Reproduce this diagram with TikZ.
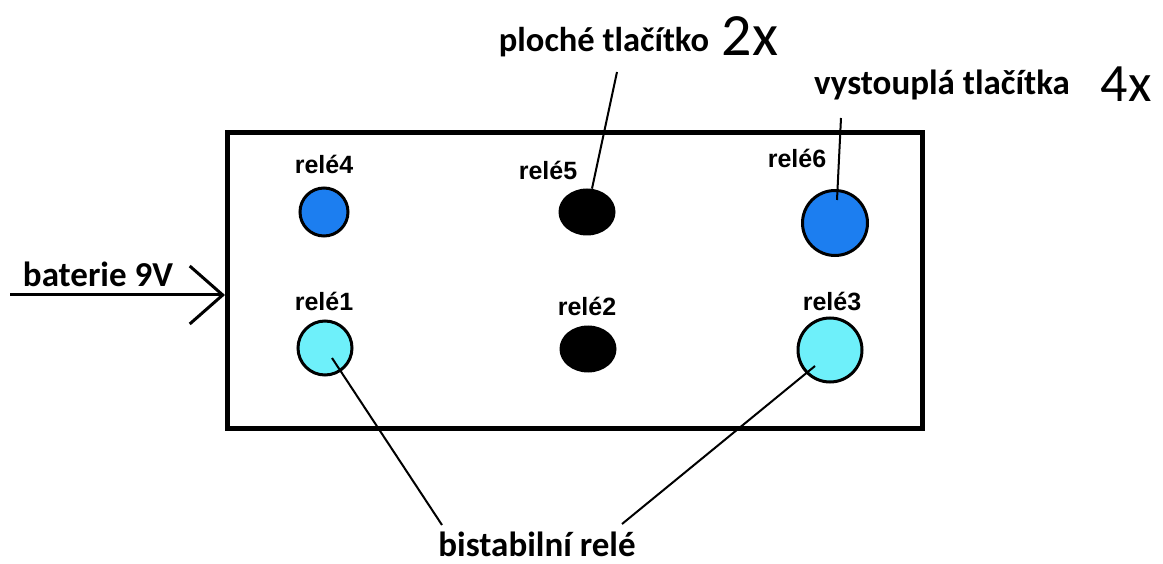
\documentclass[tikz,border=0pt]{standalone}
\usepackage{fontspec}
\setmainfont{Carlito}
\newfontfamily\relefont{Liberation Sans}
\usetikzlibrary{shapes.geometric,calc,arrows.meta}
\definecolor{btnblue}{RGB}{28,126,240}
\definecolor{btncyan}{RGB}{110,240,250}
\tikzset{
  lbl/.style={inner sep=0pt, font=\fontsize{34.5}{36}\selectfont\bfseries},
  rlbl/.style={inner sep=0pt, font=\relefont\fontsize{25}{27}\selectfont\bfseries},
  cnt/.style={inner sep=0pt, font=\fontsize{60}{62}\selectfont},
  conn/.style={line width=2pt, black},
  rbtn/.style={circle, draw=black, line width=3pt, inner sep=0pt},
  fbtn/.style={ellipse, fill=black, inner sep=0pt, minimum width=57pt, minimum height=47pt},
}
\begin{document}
\begin{tikzpicture}[x=1pt,y=-1pt]
\useasboundingbox (0,0) rectangle (1163,564);
% panel
\node[draw=black, line width=5pt, minimum width=695pt, minimum height=295pt, inner sep=0pt] (panel) at (574.5,280.5) {};
% buttons
\node[rbtn, fill=btnblue, minimum size=48pt] (r4) at (324,212) {};
\node[fbtn] (r5) at (587,212) {};
\node[rbtn, fill=btnblue, minimum size=65pt] (r6) at (835,223) {};
\node[rbtn, fill=btncyan, minimum size=54pt] (r1) at (325,348) {};
\node[fbtn] (r2) at (588,349) {};
\node[rbtn, fill=btncyan, minimum size=64pt] (r3) at (830,350) {};
% relay labels
\node[rlbl] (l4) at (324,164) {relé4};
\node[rlbl] (l5) at (548,170) {relé5};
\node[rlbl] (l6) at (797,158) {relé6};
\node[rlbl] (l1) at (324,301) {relé1};
\node[rlbl] (l2) at (587,306) {relé2};
\node[rlbl] (l3) at (832,301) {relé3};
% texts
\node[lbl] (flat) at (604,42) {ploché tlačítko};
\node[cnt] (n2) at (750,36) {2x};
\node[lbl, font=\fontsize{35}{37}\selectfont\bfseries] (raised) at (942,85) {vystouplá tlačítka};
\node[cnt, font=\fontsize{54}{56}\selectfont] (n4) at (1126,84) {4x};
\node[lbl, font=\fontsize{35}{37}\selectfont\bfseries] (bat) at (98,274) {baterie 9V};
\node[lbl, font=\fontsize{35}{37}\selectfont\bfseries, anchor=base] (bist) at (537,556) {bistabilní relé};
% connector ends
\coordinate (flatend) at (617,72);
\coordinate (raisedend) at (841,118);
\coordinate (bistl) at (442,525);
\coordinate (bistr) at (622,524);
\coordinate (batstart) at (10,295);
\coordinate (battip) at (225,295);
% connectors
\draw[conn] (flatend) -- (r5);
\draw[conn] (raisedend) -- ($(r6.center)+(2,-23)$);
\draw[conn] ($(r1.center)+(7,10)$) -- (bistl);
\draw[conn] ($(r3.center)+(-15,16)$) -- (bistr);
\draw[line width=3pt, -{Straight Barb[length=33pt, width=58pt, line width=3pt]}] (batstart) -- (battip);
\end{tikzpicture}
\end{document}
